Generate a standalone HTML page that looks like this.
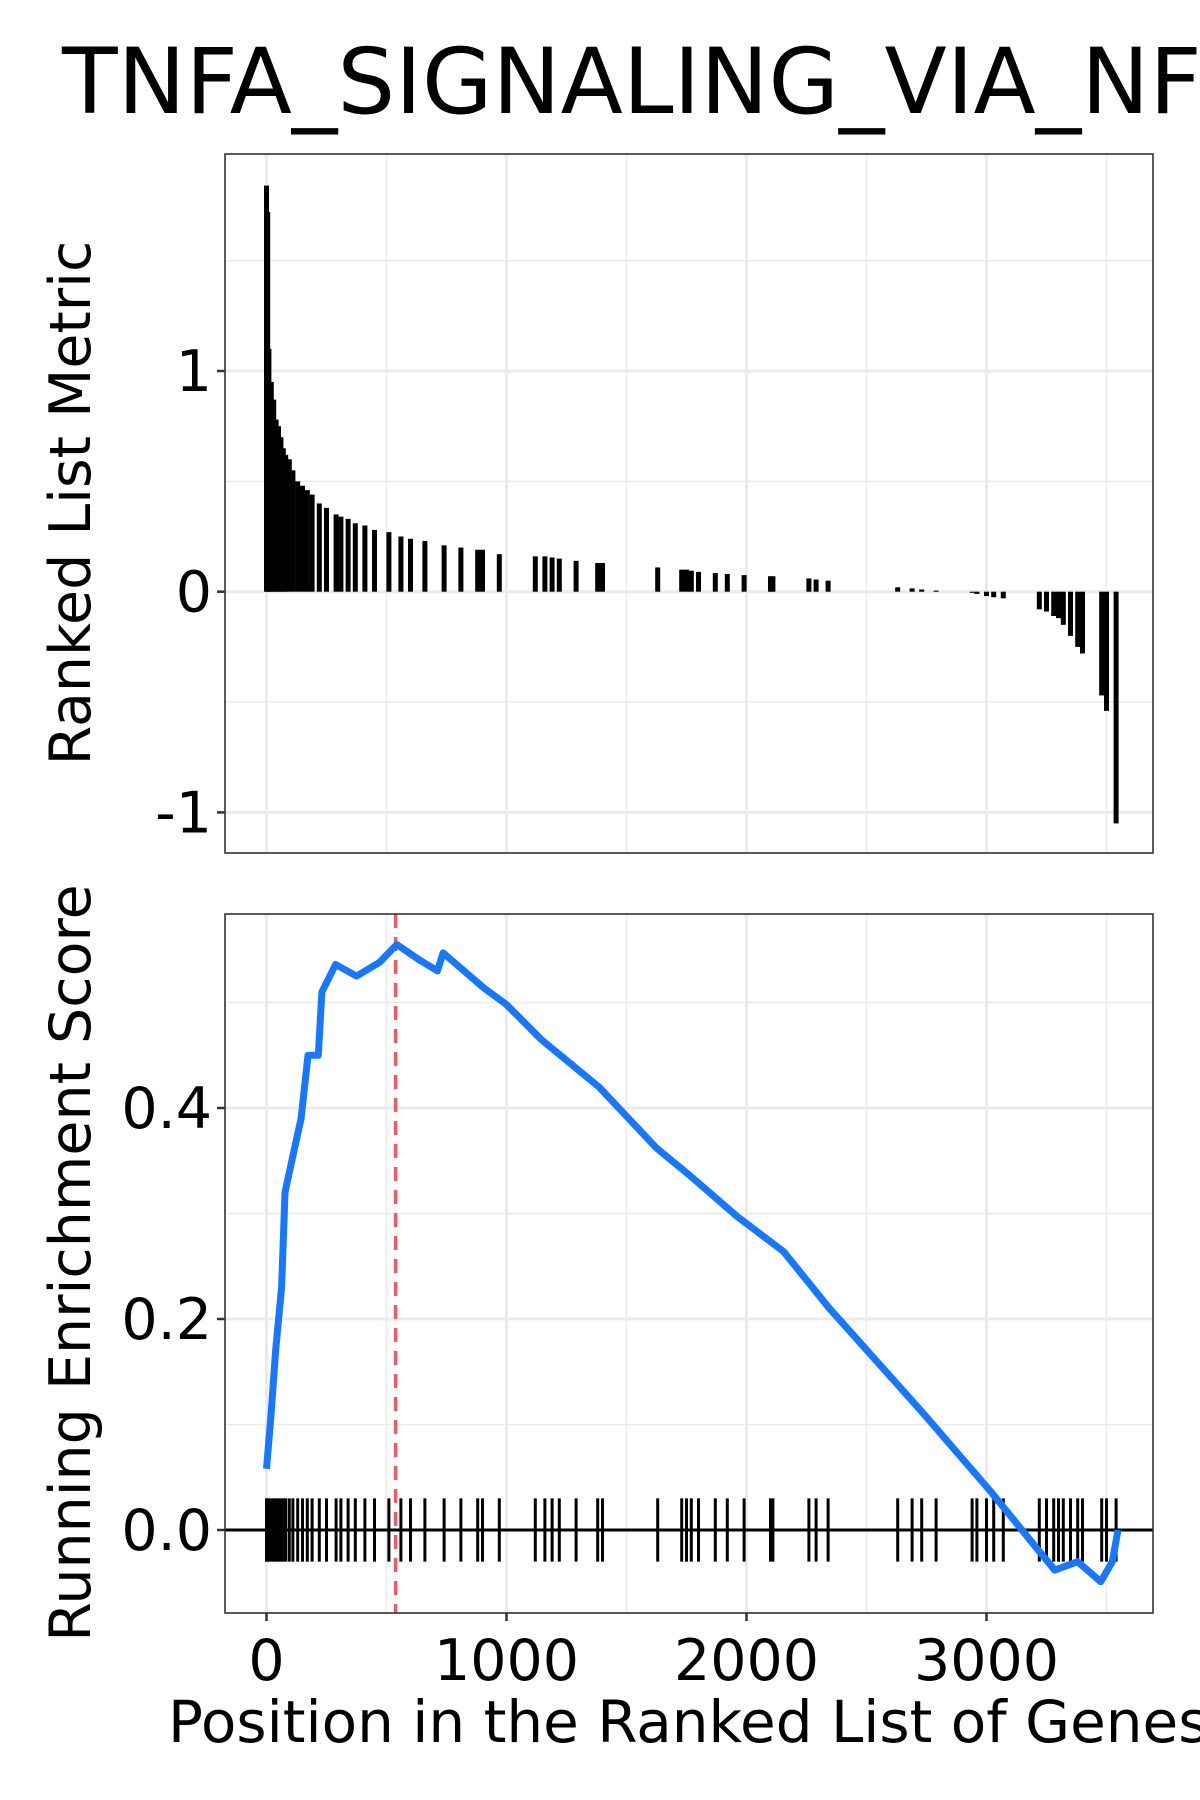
<!DOCTYPE html>
<html><head><meta charset="utf-8"><style>
html,body{margin:0;padding:0;background:#fff}
svg{display:block;font-family:"DejaVu Sans","Liberation Sans",sans-serif}
</style></head><body>
<svg id="chart" width="1200" height="1800" viewBox="0 0 1200 1800">
<text x="62" y="113" font-size="91" fill="#000">TNFA_SIGNALING_VIA_NFKB</text>
<g id="topPanel"></g>
<g id="botPanel"></g>
<text transform="translate(90,503) rotate(-90)" text-anchor="middle" font-size="57">Ranked List Metric</text>
<text transform="translate(90,1263) rotate(-90)" text-anchor="middle" font-size="57">Running Enrichment Score</text>
<text x="168" y="1742" font-size="58">Position in the Ranked List of Genes</text>
</svg>
<script>
const hitPos = [0,5,10,20,30,40,50,60,70,80,95,110,130,150,170,190,220,250,290,310,340,370,410,450,510,560,600,660,740,810,880,900,970,1120,1160,1190,1220,1290,1380,1400,1630,1730,1750,1770,1800,1870,1920,1990,2100,2110,2260,2290,2340,2630,2690,2730,2790,2940,2960,3000,3030,3070,3220,3250,3280,3300,3320,3350,3380,3400,3480,3500,3540];
const hitMetric = [1.84,1.72,1.10,0.95,0.87,0.78,0.75,0.70,0.65,0.62,0.60,0.55,0.50,0.48,0.46,0.44,0.40,0.38,0.35,0.34,0.33,0.31,0.30,0.28,0.27,0.25,0.24,0.23,0.21,0.20,0.19,0.19,0.17,0.16,0.16,0.155,0.15,0.14,0.13,0.13,0.11,0.10,0.10,0.095,0.09,0.085,0.08,0.075,0.07,0.07,0.06,0.055,0.05,0.02,0.015,0.01,0.005,-0.005,-0.01,-0.02,-0.025,-0.03,-0.08,-0.09,-0.11,-0.12,-0.15,-0.2,-0.25,-0.28,-0.47,-0.54,-1.05];
const esPos = [0,19,38,63,77,115,144,173,216,231,288,375,471,543,639,712,736,904,1000,1144,1385,1625,1769,1962,2154,2346,2731,3019,3212,3284,3380,3476,3524,3548];
const esVal = [0.058,0.11,0.17,0.23,0.32,0.36,0.39,0.45,0.45,0.51,0.536,0.525,0.538,0.555,0.54,0.53,0.547,0.514,0.498,0.465,0.42,0.362,0.335,0.297,0.264,0.21,0.112,0.036,-0.018,-0.038,-0.03,-0.049,-0.03,0];
const peakPos = [538];
const xTicks = [0,1000,2000,3000];
const topTicks = [-1,0,1];
const botTicks = [0.0,0.2,0.4];
const botLabels = ["0.0","0.2","0.4"];

const NS="http://www.w3.org/2000/svg";
function mk(parent,tag,attrs){const e=document.createElementNS(NS,tag);for(const k in attrs)e.setAttribute(k,attrs[k]);parent.appendChild(e);return e;}
const L=225,R=1153;
const xS=v=>266.5+v*0.24;
const T1=154,B1=853, yT=v=>591.7-v*220.7;
const T2=914,B2=1613, yB=v=>1530-v*1055;
const gTop=document.getElementById('topPanel'), gBot=document.getElementById('botPanel');

function panel(g,T,B,yf,minorY,majorY){
  mk(g,'rect',{x:L,y:T,width:R-L,height:B-T,fill:'#fff'});
  [500,1500,2500,3500].forEach(v=>{const l=mk(g,'line',{x1:xS(v),x2:xS(v),y1:T,y2:B,stroke:'#ebebeb','stroke-width':1.5});

});
  minorY.forEach(v=>{const l=mk(g,'line',{x1:L,x2:R,y1:yf(v),y2:yf(v),stroke:'#ebebeb','stroke-width':1.5});

});
  xTicks.forEach(v=>{const l=mk(g,'line',{x1:xS(v),x2:xS(v),y1:T,y2:B,stroke:'#ebebeb','stroke-width':3});

});
  majorY.forEach(v=>{const l=mk(g,'line',{x1:L,x2:R,y1:yf(v),y2:yf(v),stroke:'#ebebeb','stroke-width':3});

});
}
panel(gTop,T1,B1,yT,[-0.5,0.5,1.5],topTicks);
panel(gBot,T2,B2,yB,[0.1,0.3,0.5],botTicks);

hitPos.forEach((p,i)=>{const v=hitMetric[i];const y0=yT(0),y1=yT(v);
 const r=mk(gTop,'rect',{x:xS(p)-2.5,y:Math.min(y0,y1),width:5,height:Math.abs(y1-y0),fill:'#000'});
 
 });
mk(gTop,'rect',{x:L,y:T1,width:R-L,height:B1-T1,fill:'none',stroke:'#333','stroke-width':1.6});
topTicks.forEach(v=>{mk(gTop,'line',{x1:L-8,x2:L,y1:yT(v),y2:yT(v),stroke:'#333','stroke-width':2.5});
 const t=mk(gTop,'text',{x:212,y:yT(v)+20,'text-anchor':'end','font-size':57});t.textContent=String(v);
 
 });

mk(gBot,'line',{x1:L,x2:R,y1:yB(0),y2:yB(0),stroke:'#000','stroke-width':3});
hitPos.forEach(p=>{const l=mk(gBot,'line',{x1:xS(p),x2:xS(p),y1:yB(0.03),y2:yB(-0.03),stroke:'#000','stroke-width':3});
 
 });
peakPos.forEach(p=>{const l=mk(gBot,'line',{x1:xS(p),x2:xS(p),y1:T2,y2:B2,stroke:'#ee5a66','stroke-width':3.5,'stroke-dasharray':'14,9'});
 
 });
const pts=esPos.map((p,i)=>xS(p).toFixed(1)+','+yB(esVal[i]).toFixed(1)).join(' ');
const pl=mk(gBot,'polyline',{points:pts,fill:'none',stroke:'#1877ff','stroke-width':7,'stroke-linejoin':'round'});


mk(gBot,'rect',{x:L,y:T2,width:R-L,height:B2-T2,fill:'none',stroke:'#333','stroke-width':1.6});
botTicks.forEach((v,i)=>{mk(gBot,'line',{x1:L-8,x2:L,y1:yB(v),y2:yB(v),stroke:'#333','stroke-width':2.5});
 const t=mk(gBot,'text',{x:212,y:yB(v)+20,'text-anchor':'end','font-size':57});t.textContent=botLabels[i];
 
 });
xTicks.forEach(v=>{mk(gBot,'line',{x1:xS(v),x2:xS(v),y1:B2,y2:B2+8,stroke:'#333','stroke-width':2.5});
 const t=mk(gBot,'text',{x:xS(v),y:1680,'text-anchor':'middle','font-size':57});t.textContent=v;
 
 });
</script>
</body></html>
